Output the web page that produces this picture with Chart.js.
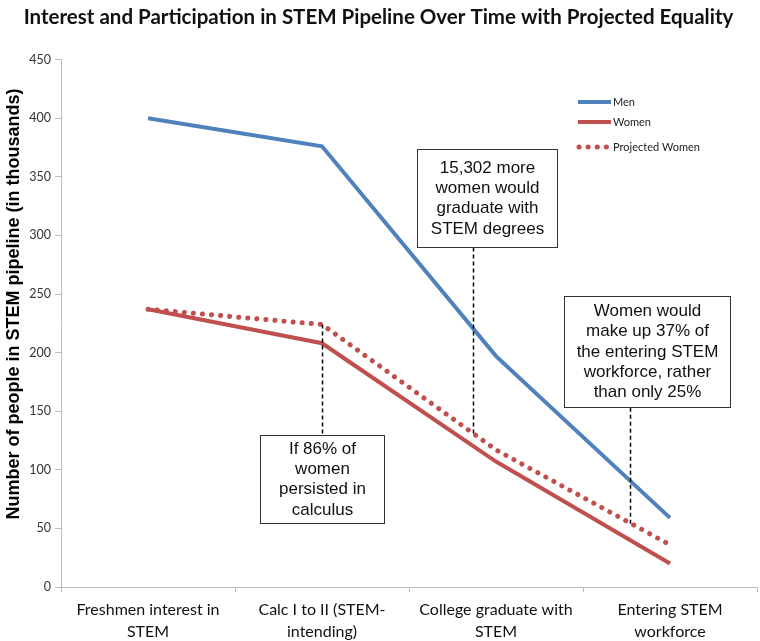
<!DOCTYPE html>
<html>
<head>
<meta charset="utf-8">
<script src="https://cdn.jsdelivr.net/npm/chart.js@4"></script>
<style>
  html, body { margin: 0; padding: 0; background: #fff; }
  #wrap { width: 760px; height: 641px; }
</style>
</head>
<body>
<div id="wrap"><canvas id="myChart"></canvas></div>
<script>
// data
var stages = [
    ["Freshmen interest in", "STEM"],
    ["Calc I to II (STEM-", "intending)"],
    ["College graduate with", "STEM"],
    ["Entering STEM", "workforce"]
];
var men = [400, 376, 197, 59];
var women = [237, 208, 107, 20];
var projectedWomen = [237, 224, 117, 36];
var yTicks = [0, 50, 100, 150, 200, 250, 300, 350, 400, 450];
var yLabel = "Number of people in STEM pipeline (in thousands)";

// callout boxes: x in category units, y in data units
var callouts = [
    {lines: ["If 86% of", "women", "persisted in", "calculus"],
     lineX: 1.0, lineFrom: 224, boxX: 1.0, boxTop: 130, boxW: 124, boxH: 88},
    {lines: ["15,302 more", "women would", "graduate with", "STEM degrees"],
     lineX: 1.87, lineFrom: 131, boxX: 1.95, boxTop: 374, boxW: 140, boxH: 98},
    {lines: ["Women would", "make up 37% of", "the entering STEM", "workforce, rather", "than only 25%"],
     lineX: 2.77, lineFrom: 54, boxX: 2.87, boxTop: 248, boxW: 166, boxH: 111}
];

var calloutPlugin = {
    id: 'callouts',
    afterDatasetsDraw: function (chart) {
        var ctx = chart.ctx;
        var xs = chart.scales.x, ys = chart.scales.y;
        var unit = xs.getPixelForValue(1) - xs.getPixelForValue(0);
        var x0 = xs.getPixelForValue(0);
        ctx.save();
        callouts.forEach(function (c) {
            var lx = Math.round(x0 + c.lineX * unit) + 0.5;
            var top = Math.round(ys.getPixelForValue(c.boxTop)) + 0.5;
            var cx = x0 + c.boxX * unit;
            var left = Math.round(cx - c.boxW / 2) + 0.5;
            // dashed leader
            ctx.strokeStyle = '#000';
            ctx.lineWidth = 1.5;
            ctx.setLineDash([4, 3]);
            ctx.beginPath();
            var yFrom = ys.getPixelForValue(c.lineFrom);
            var yTo = c.boxTop > c.lineFrom ? top + c.boxH : top;
            ctx.moveTo(lx, yFrom);
            ctx.lineTo(lx, yTo);
            ctx.stroke();
            ctx.setLineDash([]);
            // box
            ctx.fillStyle = '#fff';
            ctx.fillRect(left, top, c.boxW, c.boxH);
            ctx.lineWidth = 1;
            ctx.strokeStyle = '#333';
            ctx.strokeRect(left, top, c.boxW, c.boxH);
            // text
            ctx.fillStyle = '#111';
            ctx.font = '17px "Liberation Sans", Arial, sans-serif';
            ctx.textAlign = 'center';
            ctx.textBaseline = 'middle';
            var lh = 20.3;
            var startY = top + c.boxH / 2 - (c.lines.length - 1) * lh / 2;
            c.lines.forEach(function (t, i) {
                ctx.fillText(t, left + c.boxW / 2, startY + i * lh);
            });
        });
        ctx.restore();
    }
};

var legendPlugin = {
    id: 'cornerLegend',
    afterDraw: function (chart) {
        var ctx = chart.ctx;
        var rows = [102, 122, 147];
        ctx.save();
        chart.data.datasets.forEach(function (ds, i) {
            var y = rows[i];
            ctx.strokeStyle = ds.borderColor;
            ctx.lineWidth = ds.borderWidth;
            ctx.lineCap = ds.borderDash ? 'round' : 'butt';
            ctx.setLineDash(ds.borderDash || []);
            ctx.beginPath();
            ctx.moveTo(ds.borderDash ? 579 : 578, y);
            ctx.lineTo(611, y);
            ctx.stroke();
            ctx.setLineDash([]);
            ctx.fillStyle = '#222';
            ctx.font = '11px Lato, "Open Sans", sans-serif';
            ctx.textAlign = 'left';
            ctx.textBaseline = 'middle';
            ctx.fillText(ds.label, 613, y);
        });
        // y axis title, centred a little above the plot centre as in the original
        ctx.save();
        ctx.translate(14, 304);
        ctx.rotate(-Math.PI / 2);
        ctx.fillStyle = '#000';
        ctx.font = 'bold 18px "Liberation Sans", Arial, sans-serif';
        ctx.textAlign = 'center';
        ctx.textBaseline = 'middle';
        ctx.fillText(yLabel, 0, 0);
        ctx.restore();
        ctx.restore();
    }
};

var ctx = document.getElementById("myChart");
var myChart = new Chart(ctx, {
    type: 'line',
    plugins: [calloutPlugin, legendPlugin],
    data: {
        labels: stages,
        datasets: [{
            label: "Men",
            data: men,
            borderColor: '#4f81bd',
            backgroundColor: '#4f81bd',
            borderWidth: 4,
            pointRadius: 0,
            lineTension: 0
        }, {
            label: "Women",
            data: women,
            borderColor: '#c0504d',
            backgroundColor: '#c0504d',
            borderWidth: 4,
            pointRadius: 0,
            lineTension: 0
        }, {
            label: "Projected Women",
            data: projectedWomen,
            borderColor: '#c0504d',
            backgroundColor: '#c0504d',
            borderWidth: 5,
            borderDash: [0.1, 9],
            borderCapStyle: 'round',
            pointRadius: 0,
            lineTension: 0
        }]
    },
    options: {
        responsive: true,
        maintainAspectRatio: false,
        animation: false,
        layout: {padding: {top: 0, right: 3, bottom: 0, left: 0}},
        plugins: {
            legend: {display: false},
            tooltip: {enabled: false},
            title: {
                display: true,
                text: "Interest and Participation in STEM Pipeline Over Time with Projected Equality",
                color: '#111',
                font: {family: 'Lato, "Open Sans", sans-serif', size: 20.5, weight: 'bold'},
                padding: {top: 5, bottom: 30}
            }
        },
        scales: {
            x: {
                offset: true,
                afterFit: function (axis) { axis.height = 54; },
                grid: {display: true, offset: true, drawOnChartArea: false, color: '#bbb', tickLength: 5},
                border: {color: '#bbb'},
                ticks: {
                    color: '#111',
                    maxRotation: 0,
                    autoSkip: false,
                    padding: 7,
                    font: {family: 'Lato, "Open Sans", sans-serif', size: 16, lineHeight: 1.375}
                }
            },
            y: {
                min: 0,
                max: 450,
                afterBuildTicks: function (axis) {
                    axis.ticks = yTicks.map(function (v) { return {value: v}; });
                },
                afterFit: function (axis) { axis.width = 61; },
                grid: {display: true, drawOnChartArea: false, color: '#bbb', tickLength: 6},
                border: {color: '#bbb'},
                ticks: {
                    color: '#333',
                    padding: 4,
                    font: {family: 'Lato, "Open Sans", sans-serif', size: 12.5}
                }
            }
        }
    }
});
</script>
</body>
</html>
